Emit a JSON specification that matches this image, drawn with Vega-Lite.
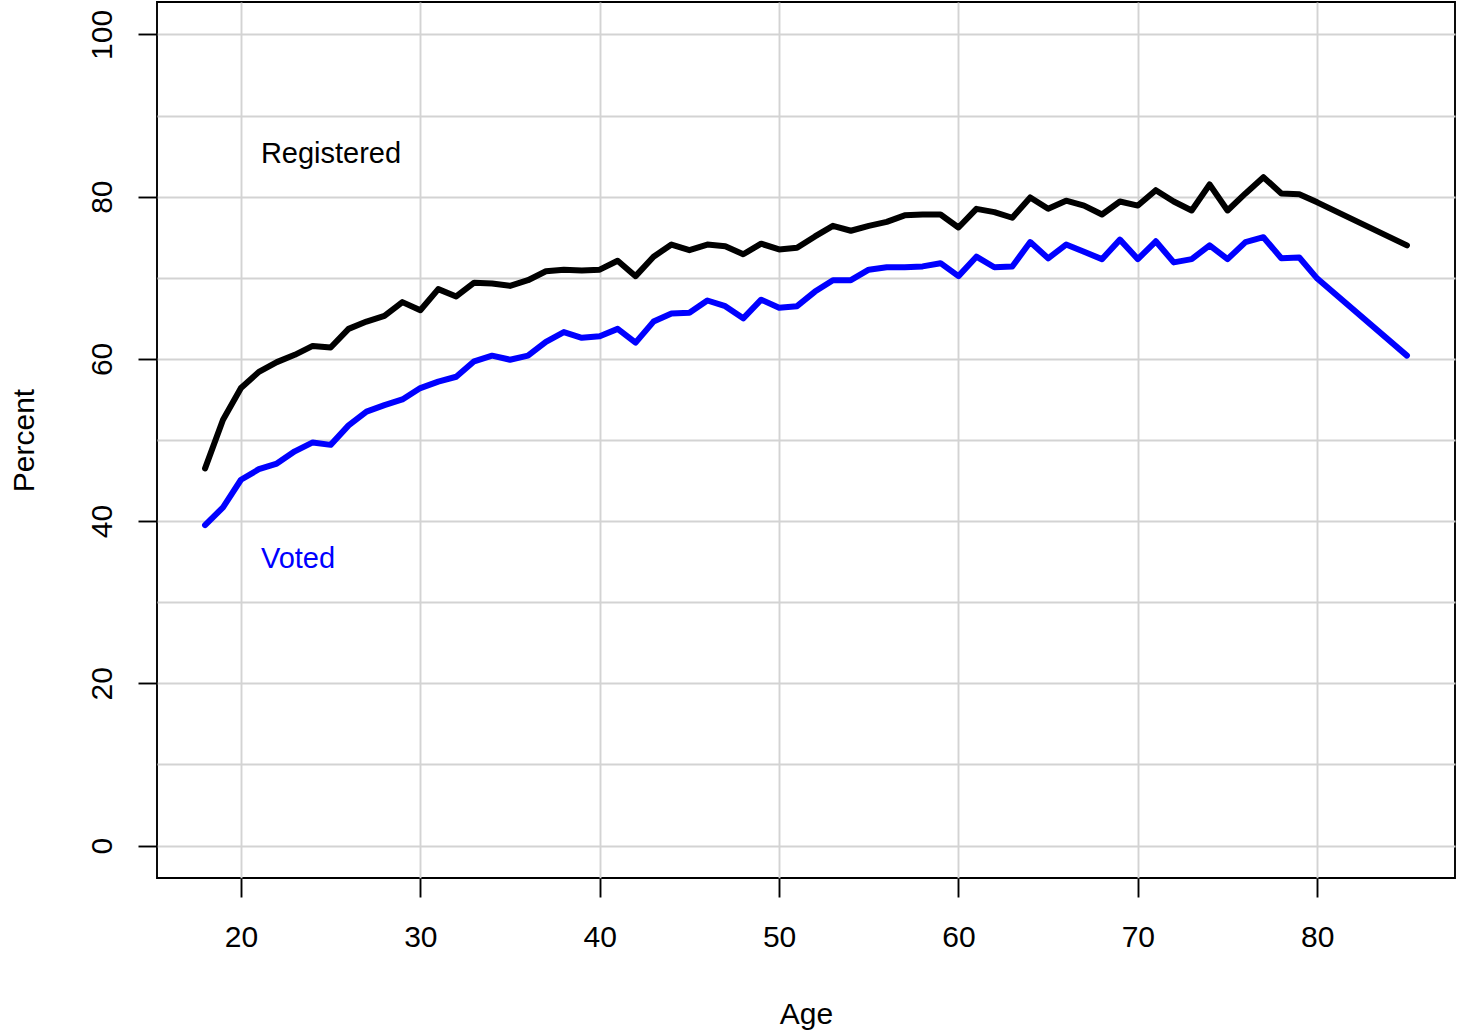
{
  "$schema": "https://vega.github.io/schema/vega-lite/v6.json",
  "width": 1298,
  "height": 876,
  "autosize": {"type": "none"},
  "padding": {"left": 157, "top": 2, "right": 11, "bottom": 155},
  "background": "white",
  "config": {
    "view": {"stroke": "black", "strokeWidth": 1.9, "fill": "white"},
    "font": "Liberation Sans",
    "axis": {
      "labelFont": "Liberation Sans",
      "titleFont": "Liberation Sans",
      "labelFontSize": 30,
      "titleFontSize": 30,
      "labelColor": "black",
      "titleColor": "black",
      "titleFontWeight": "normal",
      "domain": false,
      "tickColor": "black",
      "tickWidth": 1.9,
      "tickSize": 19,
      "gridColor": "#D3D3D3",
      "gridWidth": 1.9,
      "gridOpacity": 1
    }
  },
  "datasets": {
    "turnout": [
      {"age": 18, "pct": 46.5, "series": "Registered"},
      {"age": 19, "pct": 52.5, "series": "Registered"},
      {"age": 20, "pct": 56.4, "series": "Registered"},
      {"age": 21, "pct": 58.4, "series": "Registered"},
      {"age": 22, "pct": 59.6, "series": "Registered"},
      {"age": 23, "pct": 60.5, "series": "Registered"},
      {"age": 24, "pct": 61.6, "series": "Registered"},
      {"age": 25, "pct": 61.4, "series": "Registered"},
      {"age": 26, "pct": 63.7, "series": "Registered"},
      {"age": 27, "pct": 64.6, "series": "Registered"},
      {"age": 28, "pct": 65.3, "series": "Registered"},
      {"age": 29, "pct": 67.0, "series": "Registered"},
      {"age": 30, "pct": 66.0, "series": "Registered"},
      {"age": 31, "pct": 68.6, "series": "Registered"},
      {"age": 32, "pct": 67.7, "series": "Registered"},
      {"age": 33, "pct": 69.4, "series": "Registered"},
      {"age": 34, "pct": 69.3, "series": "Registered"},
      {"age": 35, "pct": 69.0, "series": "Registered"},
      {"age": 36, "pct": 69.7, "series": "Registered"},
      {"age": 37, "pct": 70.8, "series": "Registered"},
      {"age": 38, "pct": 71.0, "series": "Registered"},
      {"age": 39, "pct": 70.9, "series": "Registered"},
      {"age": 40, "pct": 71.0, "series": "Registered"},
      {"age": 41, "pct": 72.1, "series": "Registered"},
      {"age": 42, "pct": 70.2, "series": "Registered"},
      {"age": 43, "pct": 72.6, "series": "Registered"},
      {"age": 44, "pct": 74.1, "series": "Registered"},
      {"age": 45, "pct": 73.4, "series": "Registered"},
      {"age": 46, "pct": 74.1, "series": "Registered"},
      {"age": 47, "pct": 73.9, "series": "Registered"},
      {"age": 48, "pct": 72.9, "series": "Registered"},
      {"age": 49, "pct": 74.2, "series": "Registered"},
      {"age": 50, "pct": 73.5, "series": "Registered"},
      {"age": 51, "pct": 73.7, "series": "Registered"},
      {"age": 52, "pct": 75.1, "series": "Registered"},
      {"age": 53, "pct": 76.4, "series": "Registered"},
      {"age": 54, "pct": 75.8, "series": "Registered"},
      {"age": 55, "pct": 76.4, "series": "Registered"},
      {"age": 56, "pct": 76.9, "series": "Registered"},
      {"age": 57, "pct": 77.7, "series": "Registered"},
      {"age": 58, "pct": 77.8, "series": "Registered"},
      {"age": 59, "pct": 77.8, "series": "Registered"},
      {"age": 60, "pct": 76.2, "series": "Registered"},
      {"age": 61, "pct": 78.5, "series": "Registered"},
      {"age": 62, "pct": 78.1, "series": "Registered"},
      {"age": 63, "pct": 77.4, "series": "Registered"},
      {"age": 64, "pct": 79.9, "series": "Registered"},
      {"age": 65, "pct": 78.5, "series": "Registered"},
      {"age": 66, "pct": 79.5, "series": "Registered"},
      {"age": 67, "pct": 78.9, "series": "Registered"},
      {"age": 68, "pct": 77.8, "series": "Registered"},
      {"age": 69, "pct": 79.4, "series": "Registered"},
      {"age": 70, "pct": 78.9, "series": "Registered"},
      {"age": 71, "pct": 80.8, "series": "Registered"},
      {"age": 72, "pct": 79.4, "series": "Registered"},
      {"age": 73, "pct": 78.3, "series": "Registered"},
      {"age": 74, "pct": 81.5, "series": "Registered"},
      {"age": 75, "pct": 78.3, "series": "Registered"},
      {"age": 76, "pct": 80.4, "series": "Registered"},
      {"age": 77, "pct": 82.4, "series": "Registered"},
      {"age": 78, "pct": 80.4, "series": "Registered"},
      {"age": 79, "pct": 80.3, "series": "Registered"},
      {"age": 80, "pct": 79.3, "series": "Registered"},
      {"age": 85, "pct": 74.0, "series": "Registered"},
      {"age": 18, "pct": 39.5, "series": "Voted"},
      {"age": 19, "pct": 41.7, "series": "Voted"},
      {"age": 20, "pct": 45.1, "series": "Voted"},
      {"age": 21, "pct": 46.4, "series": "Voted"},
      {"age": 22, "pct": 47.1, "series": "Voted"},
      {"age": 23, "pct": 48.6, "series": "Voted"},
      {"age": 24, "pct": 49.7, "series": "Voted"},
      {"age": 25, "pct": 49.4, "series": "Voted"},
      {"age": 26, "pct": 51.8, "series": "Voted"},
      {"age": 27, "pct": 53.5, "series": "Voted"},
      {"age": 28, "pct": 54.3, "series": "Voted"},
      {"age": 29, "pct": 55.0, "series": "Voted"},
      {"age": 30, "pct": 56.4, "series": "Voted"},
      {"age": 31, "pct": 57.2, "series": "Voted"},
      {"age": 32, "pct": 57.8, "series": "Voted"},
      {"age": 33, "pct": 59.7, "series": "Voted"},
      {"age": 34, "pct": 60.4, "series": "Voted"},
      {"age": 35, "pct": 59.9, "series": "Voted"},
      {"age": 36, "pct": 60.4, "series": "Voted"},
      {"age": 37, "pct": 62.1, "series": "Voted"},
      {"age": 38, "pct": 63.3, "series": "Voted"},
      {"age": 39, "pct": 62.6, "series": "Voted"},
      {"age": 40, "pct": 62.8, "series": "Voted"},
      {"age": 41, "pct": 63.7, "series": "Voted"},
      {"age": 42, "pct": 62.0, "series": "Voted"},
      {"age": 43, "pct": 64.6, "series": "Voted"},
      {"age": 44, "pct": 65.6, "series": "Voted"},
      {"age": 45, "pct": 65.7, "series": "Voted"},
      {"age": 46, "pct": 67.2, "series": "Voted"},
      {"age": 47, "pct": 66.5, "series": "Voted"},
      {"age": 48, "pct": 65.0, "series": "Voted"},
      {"age": 49, "pct": 67.3, "series": "Voted"},
      {"age": 50, "pct": 66.3, "series": "Voted"},
      {"age": 51, "pct": 66.5, "series": "Voted"},
      {"age": 52, "pct": 68.3, "series": "Voted"},
      {"age": 53, "pct": 69.7, "series": "Voted"},
      {"age": 54, "pct": 69.7, "series": "Voted"},
      {"age": 55, "pct": 71.0, "series": "Voted"},
      {"age": 56, "pct": 71.3, "series": "Voted"},
      {"age": 57, "pct": 71.3, "series": "Voted"},
      {"age": 58, "pct": 71.4, "series": "Voted"},
      {"age": 59, "pct": 71.8, "series": "Voted"},
      {"age": 60, "pct": 70.2, "series": "Voted"},
      {"age": 61, "pct": 72.6, "series": "Voted"},
      {"age": 62, "pct": 71.3, "series": "Voted"},
      {"age": 63, "pct": 71.4, "series": "Voted"},
      {"age": 64, "pct": 74.4, "series": "Voted"},
      {"age": 65, "pct": 72.4, "series": "Voted"},
      {"age": 66, "pct": 74.1, "series": "Voted"},
      {"age": 67, "pct": 73.2, "series": "Voted"},
      {"age": 68, "pct": 72.3, "series": "Voted"},
      {"age": 69, "pct": 74.7, "series": "Voted"},
      {"age": 70, "pct": 72.3, "series": "Voted"},
      {"age": 71, "pct": 74.5, "series": "Voted"},
      {"age": 72, "pct": 71.9, "series": "Voted"},
      {"age": 73, "pct": 72.3, "series": "Voted"},
      {"age": 74, "pct": 74.0, "series": "Voted"},
      {"age": 75, "pct": 72.3, "series": "Voted"},
      {"age": 76, "pct": 74.4, "series": "Voted"},
      {"age": 77, "pct": 75.0, "series": "Voted"},
      {"age": 78, "pct": 72.4, "series": "Voted"},
      {"age": 79, "pct": 72.5, "series": "Voted"},
      {"age": 80, "pct": 69.9, "series": "Voted"},
      {"age": 85, "pct": 60.4, "series": "Voted"}
    ],
    "labels": [
      {"age": 21, "pct": 85, "series": "Registered", "label": "Registered"},
      {"age": 21, "pct": 35, "series": "Voted", "label": "Voted"}
    ]
  },
  "encoding": {
    "x": {
      "field": "age",
      "type": "quantitative",
      "scale": {"domain": [15.32, 87.68], "nice": false, "zero": false},
      "axis": {
        "title": "Age",
        "values": [20, 30, 40, 50, 60, 70, 80],
        "labelPadding": 25,
        "labelBaseline": "top",
        "titleX": 649,
        "titleY": 145,
        "titleAlign": "center",
        "titleBaseline": "alphabetic",
        "grid": true
      }
    },
    "y": {
      "field": "pct",
      "type": "quantitative",
      "scale": {"domain": [-4, 104], "nice": false, "zero": false},
      "axis": {
        "title": "Percent",
        "values": [0, 10, 20, 30, 40, 50, 60, 70, 80, 90, 100],
        "labelExpr": "datum.value % 20 === 0 ? datum.label : ''",
        "tickOpacity": {"condition": {"test": "datum.value % 20 !== 0", "value": 0}, "value": 1},
        "labelAngle": -90,
        "labelAlign": "center",
        "labelBaseline": "alphabetic",
        "labelPadding": 27,
        "titleAngle": 270,
        "titleX": -124,
        "titleY": 438,
        "titleAlign": "center",
        "titleBaseline": "alphabetic",
        "grid": true
      }
    },
    "color": {
      "field": "series",
      "type": "nominal",
      "scale": {"domain": ["Registered", "Voted"], "range": ["#000000", "#0000FF"]},
      "legend": null
    }
  },
  "layer": [
    {
      "data": {"name": "turnout"},
      "mark": {"type": "line", "strokeWidth": 6, "strokeCap": "round", "strokeJoin": "round"}
    },
    {
      "data": {"name": "labels"},
      "mark": {"type": "text", "align": "left", "baseline": "alphabetic", "dx": 2, "dy": 6.5, "fontSize": 29, "font": "Liberation Sans"},
      "encoding": {"text": {"field": "label"}}
    }
  ]
}
